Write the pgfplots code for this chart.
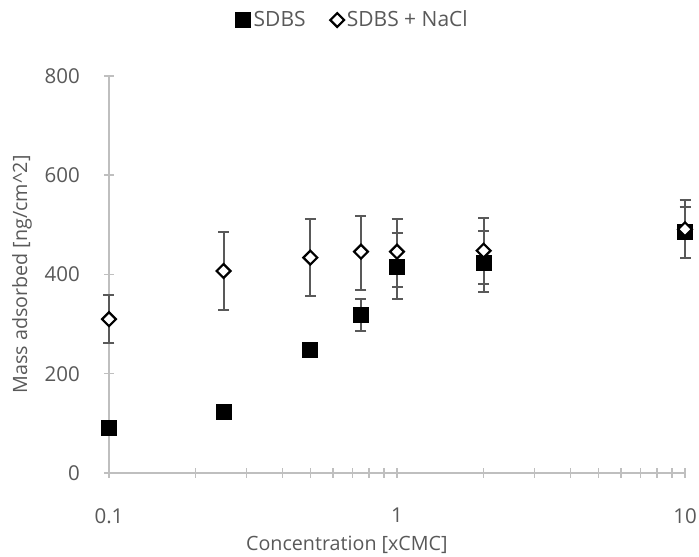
\documentclass[border=0pt]{standalone}
\usepackage{pgfplots}
\pgfplotsset{compat=1.18}
\usepackage{fontspec}
\setmainfont{Open Sans}
\usetikzlibrary{calc}
\definecolor{txt}{HTML}{595959}
\definecolor{axgray}{HTML}{BFBFBF}
\definecolor{errgray}{HTML}{595959}
\newlength{\px}\setlength{\px}{0.75pt}

\begin{document}
\begin{tikzpicture}
\begin{axis}[
    name=ax,
    scale only axis,
    width=576\px, height=397\px,
    xmode=log,
    xmin=0.1, xmax=10,
    ymin=0, ymax=800,
    ytick={0,200,...,800},
    xtick={0.1,1,10},
    xticklabels={0.1,1,10},
    minor xtick={0.2,0.3,0.4,0.5,0.6,0.7,0.8,0.9,2,3,4,5,6,7,8,9},
    /pgf/number format/assume math mode=true,
    axis lines=left,
    axis line style={-, draw=axgray, line width=1.5\px},
    tick align=center,
    major tick length=10\px,
    minor tick length=10\px,
    every tick/.style={draw=axgray, line width=1.5\px},
    tick label style={font=\fontsize{20.5\px}{22\px}\selectfont, text=txt},
    yticklabel style={inner sep=0pt, xshift=-24\px},
    xticklabel style={inner sep=0pt, yshift=-30\px},
    xlabel={Concentration [xCMC]},
    ylabel={Mass adsorbed [ng/cm\textasciicircum 2]},
    label style={font=\fontsize{19.7\px}{21\px}\selectfont, text=txt},
    xlabel style={at={(axis description cs:0.413,-0.181)}, anchor=center},
    ylabel style={at={(axis description cs:-0.151,0.5)}, anchor=center},
    clip=false,
    legend style={draw=none, fill=none, at={(axis description cs:0.424,1.141)}, anchor=center,
        font=\fontsize{21\px}{22\px}\selectfont, text=txt, inner sep=0pt,
        /tikz/every even column/.append style={column sep=22\px}},
    legend columns=2,
    legend cell align=left,
    legend image code/.code={\draw[#1] plot coordinates {(0.2cm,0cm)};},
]
\addplot+[
    only marks,
    mark=square*,
    mark size=7.5\px,
    mark options={fill=black, draw=black, line width=1\px, rounded corners=2\px},
    error bars/.cd,
        y dir=both, y explicit,
        error bar style={draw=errgray, line width=2\px},
        error mark options={draw=errgray, line width=2\px, mark size=5.5\px, rotate=90},
] coordinates {
    (0.1,90)   += (0,0) -= (0,0)
    (0.25,123) += (0,0) -= (0,0)
    (0.5,248)  += (0,0) -= (0,0)
    (0.75,318) += (0,33) -= (0,32)
    (1,416)    += (0,68) -= (0,42)
    (2,424)    += (0,64) -= (0,43)
    (10,486)   += (0,49) -= (0,53)
};
\addlegendentry{SDBS}
\addplot+[
    only marks,
    mark=square*,
    mark size=4.9\px,
    mark options={fill=white, draw=black, line width=2.2\px, rotate=45},
    error bars/.cd,
        y dir=both, y explicit,
        error bar style={draw=errgray, line width=2\px},
        error mark options={draw=errgray, line width=2\px, mark size=5.5\px, rotate=90},
] coordinates {
    (0.1,310)  +- (0,48)
    (0.25,407) += (0,78) -= (0,79)
    (0.5,434)  += (0,77) -= (0,77)
    (0.75,446) += (0,71) -= (0,77)
    (1,446)    += (0,65) -= (0,95)
    (2,448)    += (0,65) -= (0,84)
    (10,491)   += (0,59) -= (0,58)
};
\addlegendentry{SDBS + NaCl}
\end{axis}
\pgfresetboundingbox
\path ($(ax.south west)+(-109\px,-84\px)$) rectangle ($(ax.north east)+(14\px,76\px)$);
\end{tikzpicture}
\end{document}
